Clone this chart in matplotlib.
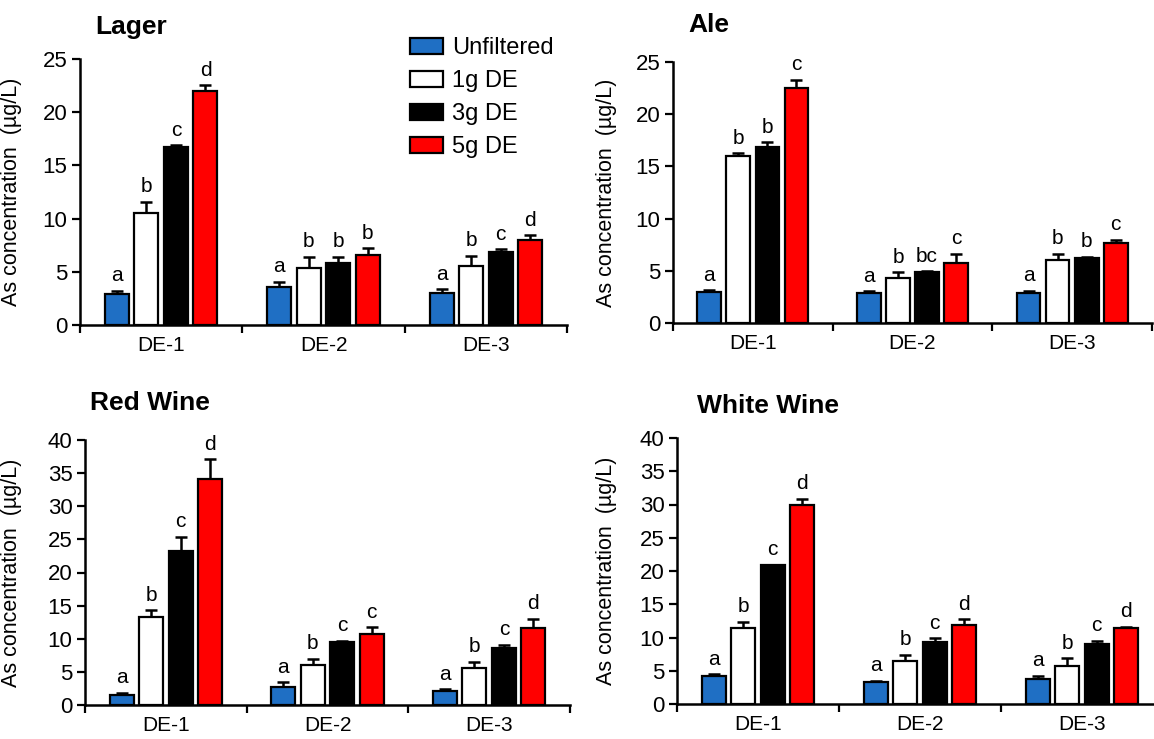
import numpy as np
import matplotlib
matplotlib.use("Agg")
import matplotlib.pyplot as plt
import matplotlib.transforms as mtransforms
from matplotlib.patches import Patch

plt.rcParams['font.family'] = ['Liberation Sans', 'DejaVu Sans']

# ---------- data ----------
groups = ["DE-1", "DE-2", "DE-3"]
series = ["Unfiltered", "1g DE", "3g DE", "5g DE"]
colors = ["#1f6fc4", "white", "black", "#ff0000"]

# rows = series (Unfiltered, 1g, 3g, 5g), columns = DE-1, DE-2, DE-3
lager_mean = [[2.9, 3.6, 3.0], [10.5, 5.4, 5.5], [16.7, 5.85, 6.9], [22.0, 6.6, 8.0]]
lager_err = [[0.3, 0.45, 0.35], [1.1, 1.0, 1.0], [0.2, 0.55, 0.2], [0.55, 0.6, 0.45]]
lager_sig = [["a", "a", "a"], ["b", "b", "b"], ["c", "b", "c"], ["d", "b", "d"]]

ale_mean = [[3.0, 2.85, 2.9], [16.0, 4.35, 6.05], [16.9, 4.85, 6.2], [22.5, 5.7, 7.7]]
ale_err = [[0.15, 0.2, 0.2], [0.25, 0.5, 0.6], [0.4, 0.1, 0.15], [0.8, 0.95, 0.25]]
ale_sig = [["a", "a", "a"], ["b", "b", "b"], ["b", "bc", "b"], ["c", "c", "c"]]

red_mean = [[1.5, 2.75, 2.1], [13.3, 6.0, 5.6], [23.2, 9.55, 8.65], [34.1, 10.65, 11.55]]
red_err = [[0.35, 0.65, 0.3], [1.0, 1.0, 0.9], [2.2, 0.15, 0.4], [3.0, 1.05, 1.5]]
red_sig = [["a", "a", "a"], ["b", "b", "b"], ["c", "c", "c"], ["d", "c", "d"]]

white_mean = [[4.15, 3.25, 3.75], [11.4, 6.4, 5.75], [20.85, 9.25, 8.95], [30.0, 11.9, 11.45]]
white_err = [[0.35, 0.25, 0.5], [1.0, 1.0, 1.1], [0.1, 0.6, 0.55], [0.85, 0.85, 0.2]]
white_sig = [["a", "a", "a"], ["b", "b", "b"], ["c", "c", "c"], ["d", "d", "d"]]

W, H = 1154, 739
fig = plt.figure(figsize=(W / 100, H / 100), dpi=100)


def px_axes(left, right, bottom, top):
    return fig.add_axes([left / W, 1 - bottom / H, (right - left) / W, (bottom - top) / H])


def panel(ax, title, means, errs, sigs, ymax, title_x, title_y, ylab_x):
    stride = 0.182
    width = 0.148
    centers = np.arange(len(groups)) + 0.5
    for i in range(len(series)):
        x = centers + (i - 1.5) * stride
        ax.bar(x, means[i], width, color=colors[i], edgecolor="black", linewidth=1.6, zorder=3)
        ax.errorbar(x, means[i], yerr=[np.zeros(3), errs[i]], fmt="none", ecolor="black",
                    elinewidth=1.8, capsize=4.5, capthick=1.8, zorder=2)
        for xx, m, e, s in zip(x, means[i], errs[i], sigs[i]):
            ax.annotate(s, (xx, m + e), xytext=(0, 4), textcoords="offset points",
                        ha="center", va="bottom", fontsize=15)
    ax.set_xlim(0, 3)
    ax.set_ylim(0, ymax)
    ax.set_yticks(np.arange(0, ymax + 1, 5))
    ax.set_xticks([0, 1, 2, 3])
    ax.set_xticklabels([])
    ax.set_xticks(centers, minor=True)
    ax.set_xticklabels(groups, minor=True, fontsize=15)
    ax.tick_params(axis="x", which="minor", length=0, pad=8)
    ax.tick_params(axis="x", which="major", length=6, width=1.6, direction="out")
    ax.tick_params(axis="y", length=6, width=1.6, labelsize=16, pad=3)
    for side in ["top", "right"]:
        ax.spines[side].set_visible(False)
    for side in ["left", "bottom"]:
        ax.spines[side].set_linewidth(1.8)
    ax.set_ylabel("As concentration  (µg/L)", fontsize=15.5)
    trans = mtransforms.blended_transform_factory(fig.transFigure, ax.transAxes)
    ax.yaxis.set_label_coords(ylab_x, 0.5, transform=trans)
    fig.text(title_x / W, 1 - title_y / H, title, fontsize=19, fontweight="bold",
             ha="left", va="center")


ax1 = px_axes(80, 567, 325, 59)
panel(ax1, "Lager", lager_mean, lager_err, lager_sig, 25, 95, 27, 22 / W)
ax2 = px_axes(673, 1152, 323, 62)
panel(ax2, "Ale", ale_mean, ale_err, ale_sig, 25, 688, 25, 617 / W)
ax3 = px_axes(85, 570, 705, 440)
panel(ax3, "Red Wine", red_mean, red_err, red_sig, 40, 90, 403, 22 / W)
ax4 = px_axes(677, 1163, 704, 438)
panel(ax4, "White Wine", white_mean, white_err, white_sig, 40, 697, 406, 617 / W)

handles = [Patch(facecolor=c, edgecolor="black", linewidth=1.6) for c in colors]
fig.legend(handles, series, loc="upper left", bbox_to_anchor=(410 / W, 1 - 37 / H),
           frameon=False, fontsize=17, handlelength=1.4, handleheight=0.65,
           handletextpad=0.4, labelspacing=0.47, borderpad=0, borderaxespad=0)

fig.savefig("out.png", dpi=100)
